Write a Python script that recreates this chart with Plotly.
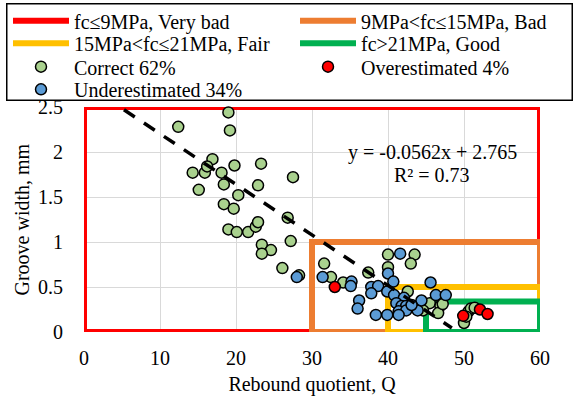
import plotly.graph_objects as go

# Zone rectangles
zone_names = ["fc≤9MPa, Very bad", "9MPa<fc≤15MPa, Bad", "15MPa<fc≤21MPa, Fair", "fc>21MPa, Good"]
zone_x0 = [0, 30, 40, 45]
zone_x1 = [60, 60, 60, 60]
zone_y0 = [0, 0, 0, 0]
zone_y1 = [2.5, 1.0, 0.5, 0.34]
zone_colors = ["#FF0000", "#ED7D31", "#FFC000", "#00B050"]

correct_x = [14.8, 19.0, 19.2, 12.4, 16.9, 14.3, 15.9, 16.2, 18.1, 19.8, 23.3, 18.4, 22.9, 27.5,
             15.1, 20.3, 18.4, 19.7, 26.8, 19.0, 20.1, 21.6, 22.6, 22.9, 23.4, 24.6, 23.4, 27.2,
             26.1, 28.3, 31.6, 32.5, 34.1, 37.4, 40.0, 43.5, 43.0, 40.0, 42.6, 45.5, 46.9, 46.6,
             44.6, 47.2, 50.0, 50.6, 50.9, 51.4, 50.3]
correct_y = [2.52, 2.44, 2.24, 2.28, 1.92, 1.77, 1.77, 1.84, 1.77, 1.85, 1.87, 1.64, 1.63, 1.72,
             1.58, 1.52, 1.42, 1.37, 1.27, 1.14, 1.11, 1.11, 1.17, 1.22, 0.97, 0.91, 0.87, 1.01,
             0.71, 0.63, 0.76, 0.61, 0.55, 0.66, 0.86, 0.86, 0.76, 0.72, 0.45, 0.32, 0.29, 0.21,
             0.24, 0.31, 0.10, 0.23, 0.26, 0.27, 0.17]

over_x = [33.0, 49.9, 52.1, 53.1]
over_y = [0.50, 0.18, 0.25, 0.20]

under_x = [28.0, 31.4, 35.2, 35.1, 36.2, 36.0, 41.6, 40.0, 40.7, 37.8, 38.7, 37.8, 39.9, 40.8,
           42.1, 41.1, 41.8, 42.4, 41.4, 42.4, 38.4, 39.9, 41.4, 43.4, 43.9, 44.4, 45.6, 46.3,
           47.6, 43.1]
under_y = [0.61, 0.61, 0.56, 0.51, 0.35, 0.26, 0.87, 0.65, 0.56, 0.50, 0.51, 0.43, 0.45, 0.41,
           0.38, 0.32, 0.29, 0.29, 0.23, 0.24, 0.19, 0.19, 0.19, 0.29, 0.24, 0.35, 0.55, 0.41,
           0.41, 0.30]

slope = -0.0562
intercept = 2.765
r2 = 0.73
trend_x = [0, 48.4]

x_title = "Rebound quotient, Q"
y_title = "Groove width, mm"

FONT = "Times New Roman, Liberation Serif, serif"
W, H = 577, 398
ML, MR, MT, MB = 84, 37, 107, 66
PW, PH = W - ML - MR, H - MT - MB

# legend layout (pixels): columns and rows of the two-column legend block
LEG_COL_X = [8, 295]
LEG_ROW_Y = [20.7, 43.3, 66.7, 89.3]
LEG_BOX = (6, 3, 572, 100)  # left, top, right, bottom
LEG_SLOTS = [(0, 0), (1, 0), (0, 1), (1, 1), (0, 2), (1, 2), (0, 3)]

fig = go.Figure()
legend_keys = ["legend"] + [f"legend{i}" for i in range(2, len(LEG_SLOTS) + 1)]
k = 0

for name, x0, x1, y0, y1, c in zip(zone_names, zone_x0, zone_x1, zone_y0, zone_y1, zone_colors):
    fig.add_trace(go.Scatter(
        x=[x0, x1, x1, x0, x0], y=[y0, y0, y1, y1, y0], mode="lines", name=name,
        line=dict(color=c, width=6), hoverinfo="skip", legend=legend_keys[k]))
    k += 1

def pts(x, y, name, color):
    global k
    fig.add_trace(go.Scatter(
        x=x, y=y, mode="markers", name=name, cliponaxis=False, legend=legend_keys[k],
        marker=dict(size=11, color=color, line=dict(color="black", width=1.5))))
    k += 1

pts(correct_x, correct_y, "Correct 62%", "#A9D18E")
pts(over_x, over_y, "Overestimated 4%", "#FF0000")
pts(under_x, under_y, "Underestimated 34%", "#5B9BD5")

fig.add_trace(go.Scatter(
    x=trend_x, y=[slope * v + intercept for v in trend_x], mode="lines", showlegend=False,
    line=dict(color="black", width=3.5, dash="13px,11px")))

fig.add_annotation(x=45.8, y=2.0, text=f"y = {slope}x + {intercept}", showarrow=False,
                   font=dict(family=FONT, size=20, color="black"))
fig.add_annotation(x=45.8, y=1.74, text=f"R² = {r2}", showarrow=False,
                   font=dict(family=FONT, size=20, color="black"))

# y-axis title as rotated text at the left edge
fig.add_annotation(xref="paper", yref="paper", x=(21 - ML) / PW, y=0.5, text=y_title,
                   textangle=-90, showarrow=False, xanchor="center", yanchor="middle",
                   font=dict(family=FONT, size=20, color="black"))

# frame around the legend entries
bl, bt, br, bb = LEG_BOX
fig.add_annotation(xref="paper", yref="paper", x=(bl - ML) / PW, y=1 + (MT - bt) / PH,
                   xanchor="left", yanchor="top", text=" ", showarrow=False,
                   width=br - bl - 2, height=bb - bt - 2, borderpad=0,
                   bordercolor="black", borderwidth=1.5, bgcolor="rgba(0,0,0,0)")

legends = {}
for key, (ci, ri) in zip(legend_keys, LEG_SLOTS):
    legends[key] = dict(
        xref="container", yref="container",
        x=LEG_COL_X[ci] / W, y=1 - LEG_ROW_Y[ri] / H, xanchor="left", yanchor="middle",
        bgcolor="rgba(0,0,0,0)", borderwidth=0,
        font=dict(family=FONT, size=20, color="black"), itemwidth=56)

fig.update_layout(
    width=W, height=H,
    margin=dict(l=ML, r=MR, t=MT, b=MB, autoexpand=False),
    paper_bgcolor="white", plot_bgcolor="white",
    font=dict(family=FONT, size=20, color="black"),
    xaxis=dict(range=[0, 60], dtick=10, showgrid=True, gridcolor="#D9D9D9", gridwidth=1,
               zeroline=False, showline=False, ticks="", ticklabelstandoff=12,
               title=dict(text=x_title, standoff=8, font=dict(size=20))),
    yaxis=dict(range=[0, 2.5], dtick=0.5, showgrid=True, gridcolor="#D9D9D9", gridwidth=1,
               zeroline=False, showline=False, ticks="", ticklabelstandoff=20),
    showlegend=True,
    **legends,
)

fig.write_html("out.html")
